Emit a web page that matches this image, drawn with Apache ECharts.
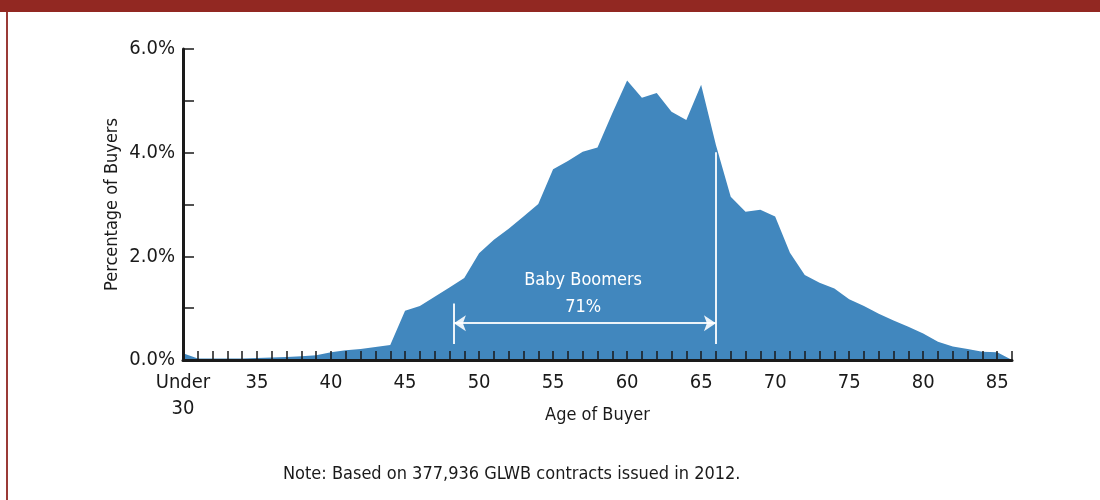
<!DOCTYPE html>
<html>
<head>
<meta charset="utf-8">
<script src="https://cdn.jsdelivr.net/npm/echarts@6/dist/echarts.min.js"></script>
<style>
  html, body { margin: 0; padding: 0; background: #fff; }
  #main { width: 1100px; height: 500px; }
</style>
</head>
<body>
<div id="main"></div>
<script>
// ages 30 ("Under 30") .. 86
var ages = [];
for (var a = 30; a <= 86; a++) ages.push(a);

// percentage of buyers at each age
var share = [
  0.13, 0.03, 0.03, 0.03, 0.03, 0.04, 0.05, 0.06, 0.07, 0.09,
  0.15, 0.19, 0.21, 0.25, 0.29, 0.95, 1.04, 1.22, 1.40, 1.58,
  2.06, 2.32, 2.53, 2.77, 3.01, 3.68, 3.84, 4.02, 4.10, 4.76,
  5.39, 5.06, 5.15, 4.79, 4.63, 5.31, 4.15, 3.15, 2.86, 2.90,
  2.77, 2.07, 1.64, 1.49, 1.38, 1.17, 1.04, 0.89, 0.76, 0.64,
  0.51, 0.35, 0.26, 0.21, 0.16, 0.15, 0.00
];

// baby boomer band (ages) and its share
var boomerFrom = 48.3;
var boomerTo = 66;
var boomerLabel = 'Baby Boomers\n71%';

var noteText = 'Note: Based on 377,936 GLWB contracts issued in 2012.';

var font = "'DejaVu Sans Condensed', 'Liberation Sans Narrow', sans-serif";
var ink = '#1a1a1a';

var chart = echarts.init(document.getElementById('main'));

var seriesData = ages.map(function (age, i) { return [age, share[i]]; });

var option = {
  animation: false,
  backgroundColor: '#fff',
  textStyle: { fontFamily: font },
  title: {
    text: noteText,
    left: 278,
    top: 460,
    textStyle: { fontFamily: font, fontSize: 18, fontWeight: 'normal', color: ink }
  },
  graphic: [
    { type: 'rect', left: 0, top: 0, shape: { width: 1100, height: 12 }, style: { fill: '#922822' } },
    { type: 'rect', left: 6, top: 12, shape: { width: 2, height: 488 }, style: { fill: '#9a3a36' } }
  ],
  grid: { left: 183, right: 88, top: 49, bottom: 140 },
  xAxis: {
    type: 'value',
    z: 5,
    min: 30,
    max: 86,
    interval: 1,
    name: 'Age of Buyer',
    nameLocation: 'middle',
    nameGap: 46,
    nameMoveOverlap: false,
    nameTextStyle: { fontFamily: font, fontSize: 18, color: ink },
    axisLine: { show: true, onZero: false, lineStyle: { color: ink, width: 3 } },
    axisTick: { show: true, inside: true, length: 9, lineStyle: { color: ink, width: 1.5 } },
    axisLabel: {
      margin: 10,
      fontFamily: font,
      fontSize: 20,
      lineHeight: 26,
      color: ink,
      formatter: function (v) {
        if (v === 30) return 'Under\n30';
        return v % 5 === 0 ? String(v) : '';
      }
    },
    splitLine: { show: false }
  },
  yAxis: {
    type: 'value',
    z: 5,
    min: 0,
    max: 6,
    interval: 1,
    name: 'Percentage of Buyers',
    nameLocation: 'middle',
    nameGap: 62,
    nameMoveOverlap: false,
    nameTextStyle: { fontFamily: font, fontSize: 18, color: ink },
    axisLine: { show: true, lineStyle: { color: ink, width: 3 } },
    axisTick: { show: true, inside: true, length: 11, lineStyle: { color: ink, width: 1.5 } },
    axisLabel: {
      margin: 8,
      fontFamily: font,
      fontSize: 20,
      color: ink,
      formatter: function (v) { return v % 2 === 0 ? v.toFixed(1) + '%' : ''; }
    },
    splitLine: { show: false }
  },
  series: [
    {
      type: 'line',
      data: seriesData,
      showSymbol: false,
      silent: true,
      z: 1,
      lineStyle: { width: 0 },
      itemStyle: { color: '#4187be' },
      areaStyle: { color: '#4187be', opacity: 1 },
      markLine: {
        silent: true,
        symbol: ['none', 'none'],
        label: { show: false },
        lineStyle: { color: 'rgba(255,255,255,0.9)', width: 2, type: 'solid' },
        emphasis: { disabled: true },
        data: [
          [{ coord: [boomerFrom, 0.31] }, { coord: [boomerFrom, 1.09] }],
          [{ coord: [boomerTo, 0.31] }, { coord: [boomerTo, 4.01] }],
          [
            { coord: [boomerFrom, 0.71], symbol: 'arrow', symbolSize: [12, 12] },
            { coord: [boomerTo, 0.71], symbol: 'arrow', symbolSize: [12, 12] }
          ]
        ]
      },
      markPoint: {
        silent: true,
        symbol: 'circle',
        symbolSize: 0,
        data: [
          {
            coord: [57.03, 1.27],
            label: {
              show: true,
              position: 'inside',
              formatter: boomerLabel,
              fontFamily: font,
              fontSize: 18,
              lineHeight: 27,
              color: '#fff'
            }
          }
        ]
      }
    }
  ]
};

chart.setOption(option);
</script>
</body>
</html>
